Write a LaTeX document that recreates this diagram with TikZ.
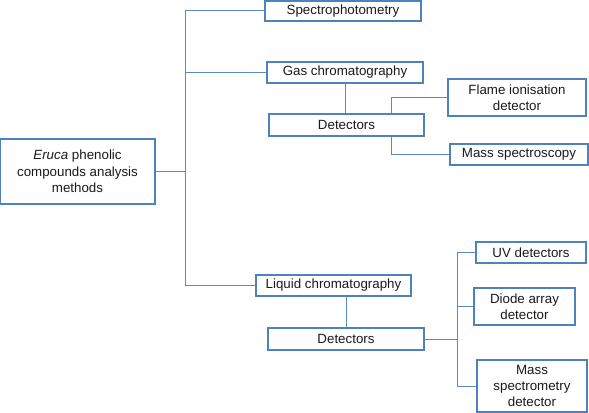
\documentclass[tikz,border=0pt]{standalone}
\usepackage{fontspec}
\setmainfont{Liberation Sans}
\usetikzlibrary{positioning}
\definecolor{BoxBlue}{HTML}{4F81BD}
\definecolor{LinkBlue}{HTML}{5B89C2}
\definecolor{InkGray}{HTML}{1A1A1A}

\begin{document}
\begin{tikzpicture}[x=0.75pt,y=-0.75pt,
  box/.style={draw=BoxBlue,line width=0.8pt,fill=white,inner sep=0pt,align=center,
    text=InkGray,font=\fontsize{10}{12.2}\selectfont},
  link/.style={draw=LinkBlue,line width=0.75pt}]
  \useasboundingbox (0,0) rectangle (589,413);
  \node[box,minimum width=155*0.75pt,minimum height=65*0.75pt] (root) at (77.5,171.5)
    {\textit{Eruca} phenolic\\compounds analysis\\methods};
  \node[box,minimum width=156*0.75pt,minimum height=20*0.75pt] (spec) at (343,11) {Spectrophotometry};
  \node[box,minimum width=156*0.75pt,minimum height=21*0.75pt] (gc) at (345,72.5) {Gas chromatography};
  \node[box,minimum width=155*0.75pt,minimum height=22*0.75pt] (gcdet) at (346.5,125) {Detectors};
  \node[box,minimum width=138*0.75pt,minimum height=37*0.75pt] (fid) at (517,97.5) {Flame ionisation\\detector};
  \node[box,minimum width=138*0.75pt,minimum height=21*0.75pt] (ms) at (519,154.5) {Mass spectroscopy};
  \node[box,minimum width=155*0.75pt,minimum height=21*0.75pt] (lc) at (333.5,285.5) {Liquid chromatography};
  \node[box,minimum width=156*0.75pt,minimum height=22*0.75pt] (lcdet) at (346,339) {Detectors};
  \node[box,minimum width=110*0.75pt,minimum height=21*0.75pt] (uv) at (531,252.5) {UV detectors};
  \node[box,minimum width=101*0.75pt,minimum height=37*0.75pt] (dad) at (524.5,306.5) {Diode array\\detector};
  \node[box,minimum width=110*0.75pt,minimum height=52*0.75pt] (msd) at (532,386) {Mass\\spectrometry\\detector};
  \coordinate (trunk) at (185,0);
  \coordinate (gcbus) at (391,0);
  \coordinate (lcbus) at (457,0);
  \draw[link] (spec.west) -- (spec.west -| trunk) -- (lc.west -| trunk) -- (lc.west);
  \draw[link] (gc.west) -- (gc.west -| trunk);
  \draw[link] (root.east) -- (root.east -| trunk);
  \draw[link] (gc.south) -- (gc.south |- gcdet.north);
  \draw[link] (fid.west) -| (gcdet.north -| gcbus);
  \draw[link] (ms.west) -| (gcdet.south -| gcbus);
  \draw[link] (lcdet.north) -- (lcdet.north |- lc.south);
  \draw[link] (lcdet.east) -- (lcdet.east -| lcbus);
  \draw[link] (uv.west) -- (uv.west -| lcbus) -- (msd.west -| lcbus) -- (msd.west);
  \draw[link] (dad.west) -- (dad.west -| lcbus);
\end{tikzpicture}
\end{document}
